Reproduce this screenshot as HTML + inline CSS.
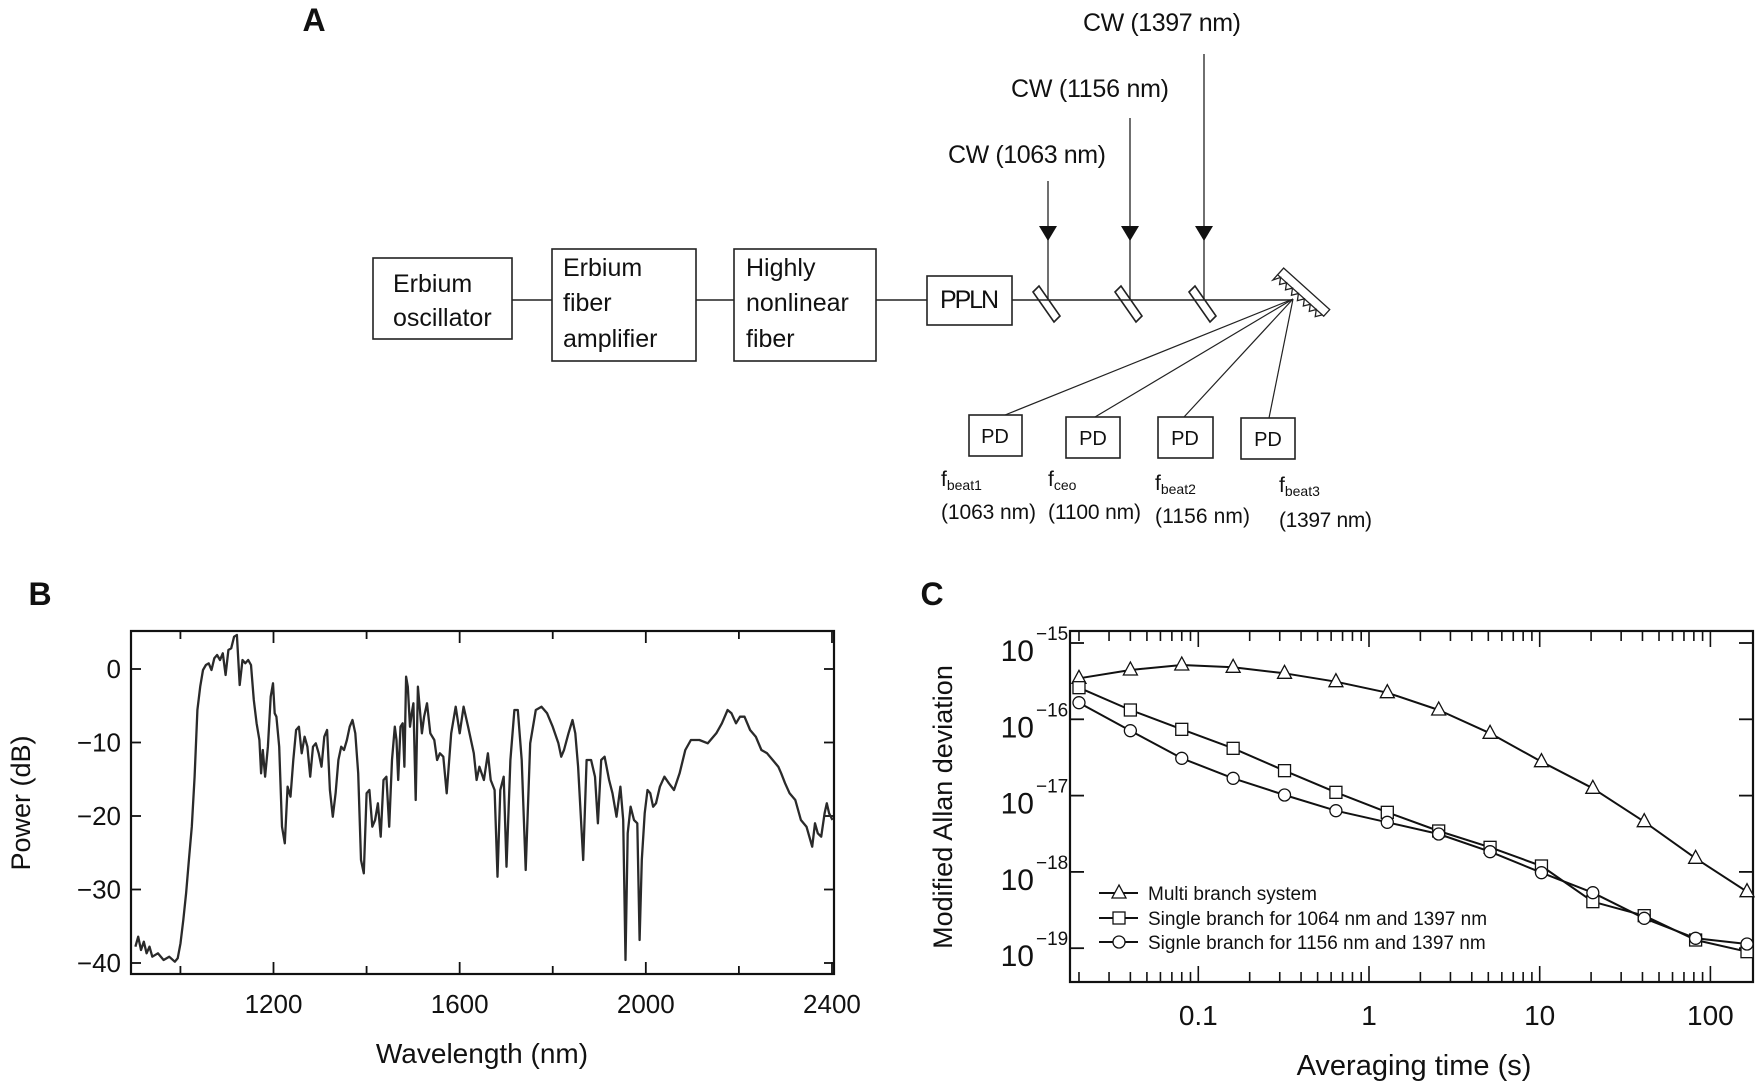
<!DOCTYPE html>
<html><head><meta charset="utf-8"><style>
html,body{margin:0;padding:0;background:#fff}
svg{display:block}
text{font-family:"Liberation Sans Narrow","Liberation Sans",sans-serif;fill:#111}
</style></head><body>
<svg id="s" width="1756" height="1083" viewBox="0 0 1756 1083" xmlns="http://www.w3.org/2000/svg">
<g stroke="#222" stroke-width="1.6" fill="none">
<rect x="373" y="258" width="139" height="81"/>
<rect x="552" y="249" width="144" height="112"/>
<rect x="734" y="249" width="142" height="112"/>
<rect x="927" y="276" width="85" height="49"/>
<line x1="512" y1="300" x2="552" y2="300"/>
<line x1="696" y1="300" x2="734" y2="300"/>
<line x1="876" y1="300" x2="927" y2="300"/>
<line x1="1012" y1="300" x2="1292" y2="300"/>
<line x1="1048" y1="181" x2="1048" y2="300" stroke-width="1.3"/>
<line x1="1130" y1="118" x2="1130" y2="300" stroke-width="1.3"/>
<line x1="1204" y1="54" x2="1204" y2="300" stroke-width="1.3"/>
<polygon points="1033,292 1039,286 1060,316 1054,322"/>
<polygon points="1115,292 1121,286 1142,316 1136,322"/>
<polygon points="1189,292 1195,286 1216,316 1210,322"/>
<g transform="translate(1302,294) rotate(42)" stroke-width="1.3">
<rect x="-31" y="-7" width="62" height="9" fill="#fff"/>
<polyline points="-31,2 -31,9 -27,2 -23,8 -19,2 -15,8 -11,2 -7,8 -3,2 1,8 5,2 9,8 13,2 17,8 21,2 25,8 29,2"/>
</g>
<rect x="969" y="415" width="53" height="41"/>
<rect x="1066" y="417" width="54" height="41"/>
<rect x="1158" y="417" width="55" height="41"/>
<rect x="1241" y="418" width="54" height="41"/>
<g stroke-width="1.2">
<line x1="1293" y1="299" x2="1005" y2="415"/>
<line x1="1293" y1="299" x2="1095" y2="417"/>
<line x1="1293" y1="299" x2="1184" y2="417"/>
<line x1="1293" y1="299" x2="1269" y2="418"/>
</g>
</g>
<g fill="#111">
<polygon points="1039,226 1057,226 1048,241"/>
<polygon points="1121,226 1139,226 1130,241"/>
<polygon points="1195,226 1213,226 1204,241"/>
</g>
<text x="314" y="31" font-size="32" font-weight="bold" text-anchor="middle" style="font-family:'Liberation Sans',sans-serif">A</text>
<g font-size="25">
<text x="948" y="163" textLength="158">CW (1063 nm)</text>
<text x="1011" y="97" textLength="158">CW (1156 nm)</text>
<text x="1083" y="31" textLength="158">CW (1397 nm)</text>
<text x="393" y="292">Erbium</text>
<text x="393" y="326">oscillator</text>
<text x="563" y="276">Erbium</text>
<text x="563" y="311">fiber</text>
<text x="563" y="347">amplifier</text>
<text x="746" y="276">Highly</text>
<text x="746" y="311">nonlinear</text>
<text x="746" y="347">fiber</text>
<text x="940" y="308" textLength="59">PPLN</text>
</g>
<g font-size="20" text-anchor="middle">
<text x="995" y="443">PD</text><text x="1093" y="445">PD</text><text x="1185" y="445">PD</text><text x="1268" y="446">PD</text>
</g>
<g font-size="21">
<text x="941" y="486">f<tspan font-size="14" dy="4">beat1</tspan></text>
<text x="1048" y="486">f<tspan font-size="14" dy="4">ceo</tspan></text>
<text x="1155" y="490">f<tspan font-size="14" dy="4">beat2</tspan></text>
<text x="1279" y="492">f<tspan font-size="14" dy="4">beat3</tspan></text>
<text x="941" y="519" textLength="95">(1063 nm)</text>
<text x="1048" y="519" textLength="93">(1100 nm)</text>
<text x="1155" y="523" textLength="95">(1156 nm)</text>
<text x="1279" y="527" textLength="93">(1397 nm)</text>
</g>
<text x="40" y="605" font-size="32" font-weight="bold" text-anchor="middle" style="font-family:'Liberation Sans',sans-serif">B</text>
<text x="932" y="605" font-size="32" font-weight="bold" text-anchor="middle" style="font-family:'Liberation Sans',sans-serif">C</text>
<g id="B"></g>
<g id="C"></g>
</svg>
<script>
var NS="http://www.w3.org/2000/svg";
function el(p,t,a,txt){var e=document.createElementNS(NS,t);for(var k in a)e.setAttribute(k,a[k]);if(txt!=null)e.textContent=txt;p.appendChild(e);return e;}
var B=document.getElementById("B");
var L=131,R=834,T=631,Bo=974;
function bx(l){return 273.5+(l-1200)*0.4654;}
function by(d){return 669-d*7.35;}
el(B,"rect",{x:L,y:T,width:R-L,height:Bo-T,fill:"none",stroke:"#111","stroke-width":2.2});
for(var l=1000;l<=2400;l+=200){var x=bx(l);var len=(l%400==0)?12:8;
el(B,"line",{x1:x,y1:T,x2:x,y2:T+len,stroke:"#111","stroke-width":1.8});
el(B,"line",{x1:x,y1:Bo,x2:x,y2:Bo-len,stroke:"#111","stroke-width":1.8});
if(l%400==0)el(B,"text",{x:x,y:1013,"font-size":26,"text-anchor":"middle"},String(l));}
for(var d=0;d>=-40;d-=10){var y=by(d);
el(B,"line",{x1:L,y1:y,x2:L+10,y2:y,stroke:"#111","stroke-width":1.8});
el(B,"line",{x1:R,y1:y,x2:R-10,y2:y,stroke:"#111","stroke-width":1.8});
el(B,"text",{x:121,y:y+9,"font-size":26,"text-anchor":"end"},d==0?"0":"\u2212"+(-d));}
el(B,"text",{x:482,y:1063,"font-size":28,"text-anchor":"middle"},"Wavelength (nm)");
el(B,"text",{x:0,y:0,"font-size":27,"text-anchor":"middle",transform:"translate(30,803) rotate(-90)",style:"font-family:'Liberation Sans',sans-serif"},"Power (dB)");
var P=[240,1160,245,1130,250,1170,255,1145,260,1180,265,1160,270,1190,280,1180,290,1200,300,1190,310,1205,315,1195,320,1150,325,1080,330,1000,335,900,340,800,345,650,350,450,355,380,360,330,365,315,370,310,375,330,380,295,385,285,390,300,395,280,400,345,405,270,410,265,415,230,420,225,425,375,430,300,435,310,440,300,445,315,450,420,455,490,460,540,463,640,466,570,470,650,475,560,480,410,484,370,487,460,490,470,495,560,500,800,505,850,510,680,515,710,520,600,525,510,530,500,535,580,540,530,545,560,550,650,555,560,560,550,565,580,570,620,575,530,580,510,585,690,590,770,595,700,600,600,605,560,610,570,615,540,620,500,625,480,630,520,635,640,640,900,645,940,650,700,655,690,660,800,665,780,670,730,675,830,680,660,685,650,690,800,695,600,700,500,703,540,706,660,710,500,714,490,717,620,720,350,723,380,727,500,730,460,733,430,737,720,741,380,745,460,748,520,752,470,757,430,763,520,770,540,775,600,780,580,786,590,792,700,800,520,808,440,815,520,822,440,830,500,840,580,845,660,850,620,858,660,865,580,870,660,877,690,882,950,887,690,893,650,898,920,905,600,912,450,918,450,925,600,932,930,940,550,950,450,960,440,970,460,980,500,990,550,995,590,1000,570,1008,520,1015,480,1020,520,1025,620,1034,900,1040,600,1048,600,1055,650,1060,790,1066,600,1072,590,1080,660,1086,700,1093,770,1100,680,1105,780,1109,1200,1113,820,1118,740,1124,780,1130,790,1134,1140,1138,900,1143,760,1148,690,1153,700,1158,740,1163,730,1170,680,1178,650,1186,670,1195,690,1205,640,1215,570,1225,540,1240,540,1255,550,1270,520,1280,490,1290,450,1297,460,1305,490,1312,470,1320,470,1330,510,1340,530,1350,570,1360,580,1370,600,1380,620,1385,640,1392,670,1400,700,1410,720,1420,780,1430,800,1440,860,1445,790,1450,820,1456,830,1462,760,1466,730,1470,760,1476,780];
var pts=[];for(var i=0;i<P.length;i+=2)pts.push((P[i]/1.773).toFixed(1)+","+(560+P[i+1]/3).toFixed(1));
el(B,"polyline",{points:pts.join(" "),fill:"none",stroke:"#2a2a2a","stroke-width":2.3,"stroke-linejoin":"round"});
var C=document.getElementById("C");
var cl=1070,cr=1753,ct=631,cb=982;
function cx(t){return 1369+Math.log10(t)*170.7;}
function cy(lg){return 643+(-15-lg)*76.3;}
el(C,"rect",{x:cl,y:ct,width:cr-cl,height:cb-ct,fill:"none",stroke:"#111","stroke-width":2.2});
for(var e=-2;e<=2;e++)for(var m=1;m<10;m++){var t=m*Math.pow(10,e);var x=cx(t);if(x<=cl+1||x>=cr-1)continue;var len=m==1?16:10;
el(C,"line",{x1:x,y1:ct,x2:x,y2:ct+len,stroke:"#111","stroke-width":1.6});
el(C,"line",{x1:x,y1:cb,x2:x,y2:cb-len,stroke:"#111","stroke-width":1.6});}
[["0.1",0.1],["1",1],["10",10],["100",100]].forEach(function(a){el(C,"text",{x:cx(a[1]),y:1025,"font-size":28,"text-anchor":"middle"},a[0]);});
for(var k=15;k<=19;k++){var y=cy(-k);
el(C,"line",{x1:cl,y1:y,x2:cl+14,y2:y,stroke:"#111","stroke-width":1.8});
el(C,"line",{x1:cr,y1:y,x2:cr-14,y2:y,stroke:"#111","stroke-width":1.8});
el(C,"text",{x:1034,y:y+18,"font-size":30,"text-anchor":"end"},"10");
el(C,"text",{x:1036,y:y-3,"font-size":19},"\u2212"+k);}
el(C,"text",{x:1414,y:1075,"font-size":29,"text-anchor":"middle"},"Averaging time (s)");
el(C,"text",{x:0,y:0,"font-size":27,"text-anchor":"middle",transform:"translate(952,807) rotate(-90)",style:"font-family:'Liberation Sans',sans-serif"},"Modified Allan deviation");
var S=[[355,330,315,322,340,365,398,450,520,605,685,785,895,995],[383,450,508,565,632,697,757,813,862,918,1025,1067,1140,1175],[428,512,595,655,705,752,787,822,875,938,998,1075,1135,1152]];
function mark(g,type,x,y){
if(type==0)el(g,"polygon",{points:(x)+","+(y-8)+" "+(x-7)+","+(y+5)+" "+(x+7)+","+(y+5),fill:"#fff",stroke:"#111","stroke-width":1.3});
else if(type==1)el(g,"rect",{x:x-6,y:y-6,width:12,height:12,fill:"#fff",stroke:"#111","stroke-width":1.3});
else el(g,"circle",{cx:x,cy:y,r:6,fill:"#fff",stroke:"#111","stroke-width":1.3});}
S.forEach(function(s,si){var p=[];var xy=[];for(var i=0;i<s.length;i++){var x=cx(0.02*Math.pow(2,i));var y=560+s[i]/3;xy.push([x,y]);p.push(x.toFixed(1)+","+y.toFixed(1));}
el(C,"polyline",{points:p.join(" "),fill:"none",stroke:"#111","stroke-width":2,"stroke-linejoin":"round"});
xy.forEach(function(q){mark(C,si,q[0],q[1]);});});
var labs=["Multi branch system","Single branch for 1064 nm and 1397 nm","Signle branch for 1156 nm and 1397 nm"];
[893,918,942].forEach(function(y,i){el(C,"line",{x1:1099,y1:y,x2:1138,y2:y,stroke:"#111","stroke-width":2});mark(C,i,1119,y);
el(C,"text",{x:1148,y:y+7,"font-size":19},labs[i]);});
</script>
</body></html>
